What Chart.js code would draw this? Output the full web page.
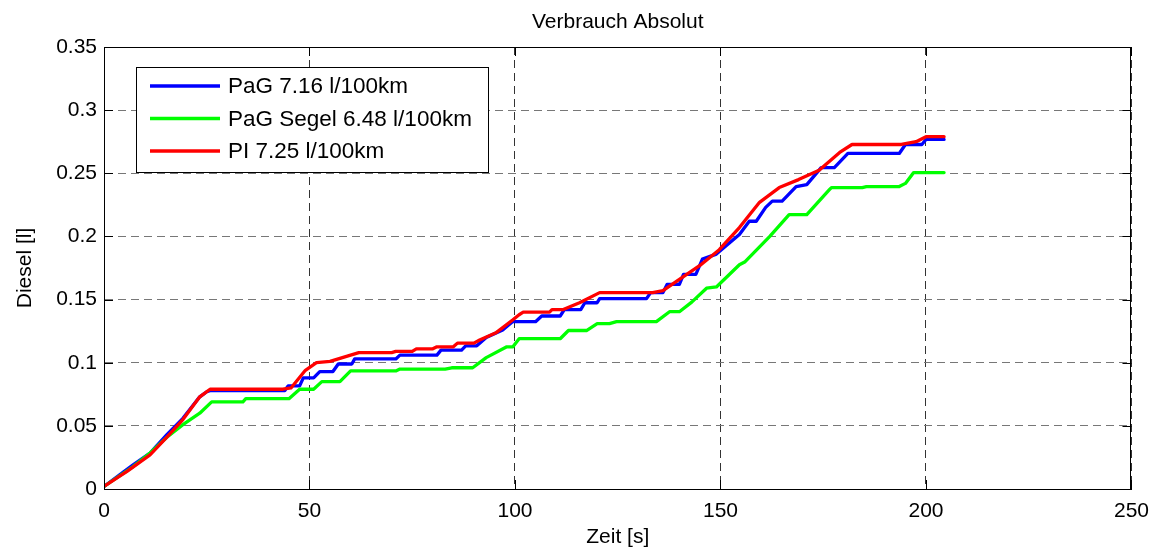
<!DOCTYPE html>
<html>
<head>
<meta charset="utf-8">
<title>Verbrauch Absolut</title>
<script src="https://cdn.jsdelivr.net/npm/chart.js@4.4.1/dist/chart.umd.min.js"></script>
<style>
  html, body { margin: 0; padding: 0; background: #fff; }
</style>
</head>
<body>
<canvas id="verbrauch" width="1159" height="551"></canvas>
<script>
// Zeitachse [s] und kumulierter Dieselverbrauch [l] je Variante
var pagTime = [0, 4.7, 7, 11.2, 15.3, 19.2, 23.3, 25, 26, 44, 44.8, 47.6, 48.5, 51, 52.5, 55.7,
  57, 60.3, 61, 71, 72, 81, 82, 87, 88, 90.7, 93, 97, 99.4, 105, 106.5, 111, 112, 116,
  117, 120, 120.6, 132, 133, 136, 137, 140, 141, 144, 145.6, 149, 154.6, 157, 158.7, 161,
  162.6, 165, 168.4, 171, 174.5, 177.7, 181, 193.5, 195, 199, 200, 204.4];
var pagDiesel = [0.002, 0.0135, 0.019, 0.0285, 0.043, 0.056, 0.073, 0.077, 0.078, 0.078, 0.0817, 0.0817, 0.088, 0.088, 0.093, 0.093,
  0.099, 0.099, 0.103, 0.103, 0.106, 0.106, 0.110, 0.110, 0.1134, 0.1134, 0.12, 0.126, 0.1325, 0.1325, 0.137, 0.137, 0.142, 0.142,
  0.1475, 0.1475, 0.1507, 0.1507, 0.1555, 0.1555, 0.162, 0.162, 0.170, 0.170, 0.182, 0.186, 0.2015, 0.212, 0.212, 0.223,
  0.228, 0.228, 0.2395, 0.241, 0.2545, 0.2545, 0.2657, 0.2657, 0.2728, 0.2728, 0.2768, 0.2768];

var segelTime = [0, 7, 11.2, 15.3, 19.2, 23.3, 26.2, 33.8, 34.5, 45, 47.6, 51, 53, 57.4, 60, 71,
  72, 83, 84.6, 89.7, 93, 98, 99.5, 101, 111, 113, 117.4, 120, 123, 124.7, 134.4, 137.6,
  140, 143, 146.6, 149, 154.6, 156, 162, 166.7, 171, 176.5, 177, 184.5, 185.5, 193.5, 195, 197, 204.4];
var segelDiesel = [0.002, 0.0175, 0.0285, 0.041, 0.051, 0.06, 0.069, 0.069, 0.0715, 0.0715, 0.079, 0.079, 0.085, 0.085, 0.0935, 0.0935,
  0.095, 0.095, 0.096, 0.096, 0.104, 0.1126, 0.1126, 0.119, 0.119, 0.1255, 0.1255, 0.131, 0.131, 0.1325, 0.1325, 0.1404,
  0.1404, 0.148, 0.159, 0.160, 0.1776, 0.18, 0.2, 0.2173, 0.2173, 0.237, 0.2387, 0.2387, 0.2395, 0.2395, 0.242, 0.2506, 0.2506];

var piTime = [0, 5.6, 11.2, 15.3, 19.2, 23.3, 25.8, 43.5, 45.5, 49, 51.7, 55, 59, 62, 70, 71,
  75, 76, 80, 81, 85, 86, 90, 91.4, 95.5, 99.5, 101, 102, 108.4, 109, 111.6, 115.7,
  120.6, 133.5, 136, 140, 145, 149.7, 154.6, 159.5, 164.3, 169, 174, 179, 182, 194, 197.6, 200, 204.4];
var piDiesel = [0.002, 0.014, 0.027, 0.041, 0.055, 0.073, 0.079, 0.079, 0.080, 0.094, 0.1, 0.101, 0.105, 0.108, 0.108, 0.109,
  0.109, 0.111, 0.111, 0.1126, 0.1126, 0.1155, 0.1155, 0.118, 0.124, 0.134, 0.138, 0.140, 0.140, 0.142, 0.142, 0.1475,
  0.1555, 0.1555, 0.157, 0.166, 0.177, 0.1895, 0.207, 0.227, 0.2387, 0.245, 0.2525, 0.2665, 0.2728, 0.2728, 0.275, 0.279, 0.279];

var seriesNames = ['PaG 7.16 l/100km', 'PaG Segel 6.48 l/100km', 'PI 7.25 l/100km'];
var xTicks = [0, 50, 100, 150, 200, 250];
var yTicks = [0, 0.05, 0.1, 0.15, 0.2, 0.25, 0.3, 0.35];

function toPoints(xs, ys) {
  return xs.map(function (x, i) { return { x: x, y: ys[i] }; });
}

var FONT = 'Liberation Sans, Arial, Helvetica, sans-serif';

// MATLAB-artiger Rahmen mit Ticks innen, Titel und Legende oben links
var axesBox = {
  id: 'axesBox',
  afterDraw: function (chart) {
    var ctx = chart.ctx;
    var a = chart.chartArea;
    var xs = chart.scales.x, ys = chart.scales.y;
    ctx.save();
    ctx.strokeStyle = '#000';
    ctx.lineWidth = 1;
    ctx.strokeRect(Math.round(a.left) + 0.5, Math.round(a.top) + 0.5,
      Math.round(a.right - a.left) - 1, Math.round(a.bottom - a.top));
    ctx.beginPath();
    xTicks.forEach(function (v) {
      var px = Math.round(xs.getPixelForValue(v)) + 0.5;
      ctx.moveTo(px, a.bottom); ctx.lineTo(px, a.bottom - 9);
      ctx.moveTo(px, a.top); ctx.lineTo(px, a.top + 9);
    });
    yTicks.forEach(function (v) {
      var py = Math.round(ys.getPixelForValue(v)) + 0.5;
      ctx.moveTo(a.left, py); ctx.lineTo(a.left + 9, py);
      ctx.moveTo(a.right, py); ctx.lineTo(a.right - 9, py);
    });
    ctx.stroke();

    // Titel
    ctx.fillStyle = '#000';
    ctx.font = '21px ' + FONT;
    ctx.textAlign = 'center';
    ctx.textBaseline = 'alphabetic';
    ctx.fillText('Verbrauch Absolut', (a.left + a.right) / 2, 28);

    // Legende
    var lx = a.left + 32, ly = a.top + 20, lw = 352, lh = 105;
    ctx.fillStyle = '#fff';
    ctx.fillRect(lx, ly, lw, lh);
    ctx.strokeStyle = '#000';
    ctx.strokeRect(lx + 0.5, ly + 0.5, lw, lh);
    ctx.font = '22.5px ' + FONT;
    ctx.textAlign = 'left';
    ctx.textBaseline = 'middle';
    chart.data.datasets.forEach(function (ds, i) {
      var ry = ly + 19 + i * 32.5;
      ctx.strokeStyle = ds.borderColor;
      ctx.lineWidth = 3.3;
      ctx.beginPath();
      ctx.moveTo(lx + 14, ry); ctx.lineTo(lx + 84, ry);
      ctx.stroke();
      ctx.fillStyle = '#000';
      ctx.fillText(ds.label, lx + 92, ry + 1);
    });
    ctx.restore();
  }
};

var ctx = document.getElementById('verbrauch').getContext('2d');
var myChart = new Chart(ctx, {
  type: 'line',
  data: {
    datasets: [{
      label: seriesNames[0],
      data: toPoints(pagTime, pagDiesel),
      borderColor: '#0000ff',
      order: 3
    }, {
      label: seriesNames[1],
      data: toPoints(segelTime, segelDiesel),
      borderColor: '#00ff00',
      order: 2
    }, {
      label: seriesNames[2],
      data: toPoints(piTime, piDiesel),
      borderColor: '#ff0000',
      order: 1
    }]
  },
  options: {
    responsive: false,
    devicePixelRatio: 1,
    animation: false,
    events: [],
    layout: { padding: { top: 47, right: 27, left: 0, bottom: 0 } },
    elements: {
      line: { borderWidth: 3.3, tension: 0, fill: false, borderCapStyle: 'round', borderJoinStyle: 'round' },
      point: { radius: 0 }
    },
    scales: {
      x: {
        type: 'linear',
        min: 0,
        max: 250,
        afterBuildTicks: function (s) { s.ticks = xTicks.map(function (v) { return { value: v }; }); },
        afterFit: function (s) { s.height = 62; },
        ticks: { color: '#000', padding: 10, font: { family: FONT, size: 21 } },
        grid: { color: '#333', drawTicks: false, lineWidth: 1 },
        border: { display: true, color: '#000', dash: [8, 5] },
        title: { display: true, text: 'Zeit [s]', color: '#000', padding: { top: 0, bottom: 1 }, font: { family: FONT, size: 21 } }
      },
      y: {
        min: 0,
        max: 0.35,
        afterBuildTicks: function (s) { s.ticks = yTicks.map(function (v) { return { value: v }; }); },
        afterFit: function (s) { s.width = 104; },
        ticks: {
          color: '#000', padding: 7, font: { family: FONT, size: 21 },
          callback: function (v) { return String(+v.toFixed(2)); }
        },
        grid: { color: '#777', drawTicks: false, lineWidth: 1 },
        border: { display: true, color: '#000', dash: [8, 5] },
        title: { display: true, text: 'Diesel [l]', color: '#000', padding: { top: 13, bottom: 0 }, font: { family: FONT, size: 21 } }
      }
    },
    plugins: {
      legend: { display: false },
      title: { display: false },
      tooltip: { enabled: false }
    }
  },
  plugins: [axesBox]
});
</script>
</body>
</html>
